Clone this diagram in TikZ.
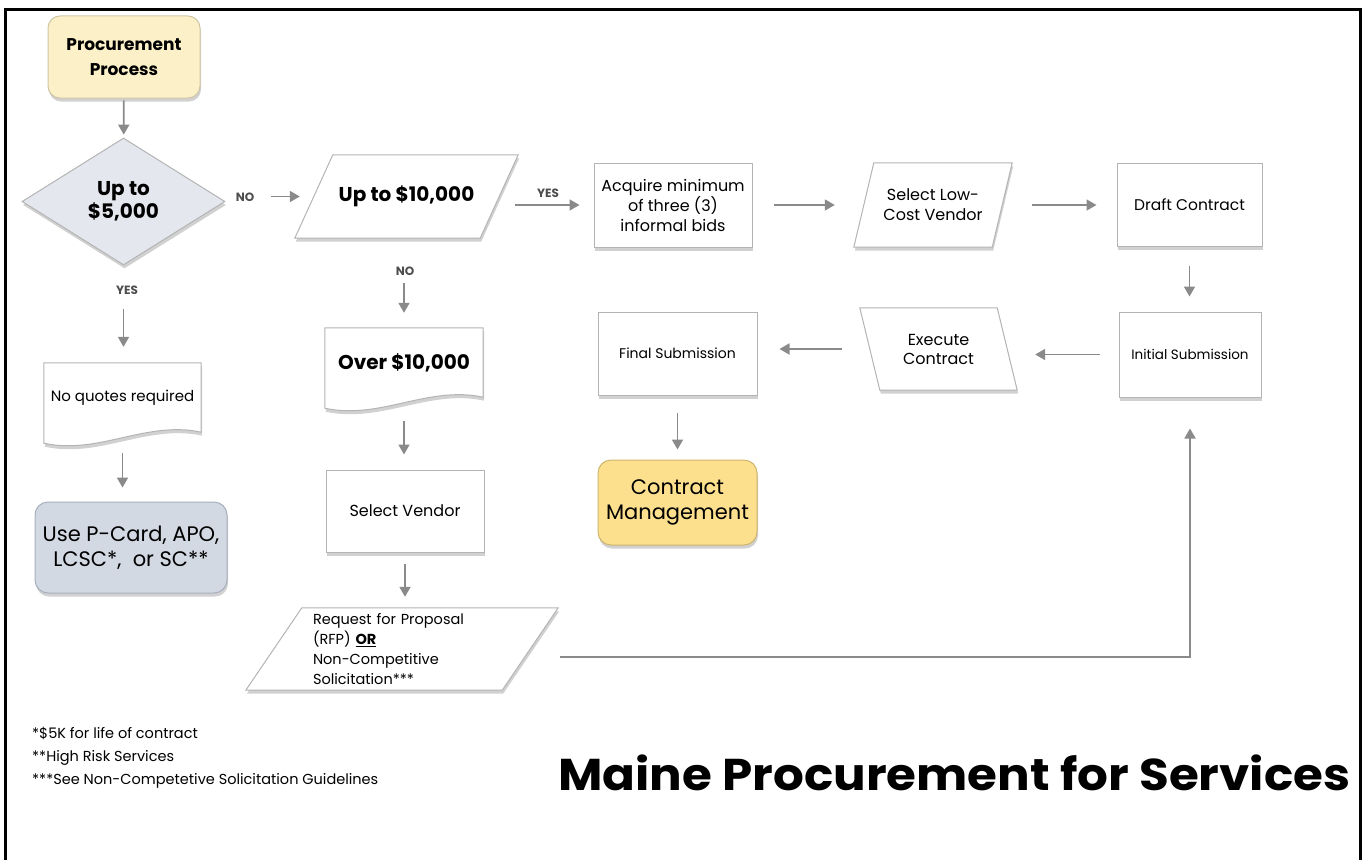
\documentclass[tikz,border=0pt]{standalone}
\usepackage{graphicx}
\usepackage{fontspec}
\setmainfont{Poppins}
\usetikzlibrary{shapes.geometric,arrows.meta,shadows,calc}
\definecolor{linegray}{HTML}{B4B4B4}
\definecolor{arrgray}{HTML}{8A8A8A}
\definecolor{procfill}{HTML}{FCF0C8}
\definecolor{procline}{HTML}{CFC6A6}
\definecolor{diafill}{HTML}{E4E7EE}
\definecolor{pcardfill}{HTML}{D3D9E3}
\definecolor{pcardline}{HTML}{A7AFBD}
\definecolor{cmfill}{HTML}{FCE08E}
\definecolor{cmline}{HTML}{CDB56E}
\definecolor{lblgray}{HTML}{4D4D4D}
\newcommand\fsz[2]{\fontsize{#1}{#2}\selectfont}
\pgfdeclarelayer{bg}
\pgfsetlayers{bg,main}
\tikzset{
  shad/.style={drop shadow={shadow xshift=1pt, shadow yshift=-3.5pt, opacity=0.3, fill=black!60}},
  boxst/.style={rectangle, draw=linegray, line width=1pt, fill=white, shad, align=center, inner sep=0pt, text=black},
  ghost/.style={rectangle, inner sep=0pt, align=center, text=black},
  pshape/.style={draw=linegray, line width=1pt, fill=white, shad},
  arr/.style={draw=arrgray, line width=1.8pt, -{Triangle[length=10pt,width=11pt]}},
  lbl/.style={font=\fsz{12}{14}\bfseries, text=lblgray, inner sep=0pt}
}
\newcommand\docpath[3]{%
  \path[pshape] (#1.north west) -- ($(#1.south west)+(0,#2)$)
    .. controls ($(#1.south west)+({0.35*#3},{#2+12})$) and ($(#1.south east)+({-0.35*#3},-12)$) .. (#1.south east)
    -- (#1.north east) -- cycle;}
\newcommand\parapath[2]{%
  \path[pshape] ($(#1.north west)+(#2,0)$) -- ($(#1.north east)+(#2,0)$)
    -- ($(#1.south east)+({-(#2)},0)$) -- ($(#1.south west)+({-(#2)},0)$) -- cycle;}
\begin{document}
\begin{tikzpicture}[x=1pt,y=-1pt]
\useasboundingbox (0,0) rectangle (1367,859);
% frame
\draw[line width=3pt] (5,875) -- (5,10) -- (1360,10) -- (1360,875);

% left column
\node[boxst, draw=procline, fill=procfill, rounded corners=12pt, minimum width=152pt, minimum height=82pt, font=\fsz{17}{25}\bfseries] (proc) at (124,57) {Procurement\\Process};
\node[diamond, draw=linegray, line width=1pt, fill=diafill, shad, inner sep=0pt, minimum width=203pt, minimum height=127pt, align=center, font=\fsz{20}{23}\bfseries] (dia) at (123.5,201.5) {Up to\\\$5,000};
\node[ghost, minimum width=157pt, minimum height=69pt, font=\fsz{15}{19}] (noq) at (122.5,397.5) {No quotes required};
\node[boxst, draw=pcardline, fill=pcardfill, rounded corners=13pt, minimum width=192pt, minimum height=91pt, font=\fsz{21}{25}] (pcard) at (131,547.5) {Use P-Card, APO,\\LCSC*,\ \ or SC**};

% middle column
\node[ghost, minimum width=185pt, minimum height=83pt, font=\fsz{20}{24}\bfseries] (up10) at (406.5,196.5) {Up to \$10,000};
\node[ghost, minimum width=158pt, minimum height=69pt, font=\fsz{20}{24}\bfseries] (over) at (404,362.5) {Over \$10,000};
\node[boxst, minimum width=158pt, minimum height=82pt, font=\fsz{16}{20}] (selv) at (405,511) {Select Vendor};
\node[ghost, minimum width=256pt, minimum height=82pt, text width=178pt, inner xsep=39pt, align=left, font=\fsz{14.5}{20}] (rfp) at (402,649) {Request for Proposal\\(RFP) \textbf{\underline{OR}}\\Non-Competitive\\Solicitation***};

% top row
\node[boxst, minimum width=158pt, minimum height=84pt, font=\fsz{16}{20}] (acq) at (673,205) {Acquire minimum\\of three (3)\\informal bids};
\node[ghost, minimum width=138pt, minimum height=84pt, font=\fsz{16}{20}] (sel) at (933,205) {Select Low-\\Cost Vendor};
\node[boxst, minimum width=145pt, minimum height=83pt, font=\fsz{15.5}{20}] (draft) at (1189.5,204.5) {Draft Contract};

% second row
\node[boxst, minimum width=142pt, minimum height=85pt, font=\fsz{13.5}{18}] (init) at (1190,354.5) {Initial Submission};
\node[ghost, minimum width=137pt, minimum height=82pt, font=\fsz{16}{19}] (exe) at (938.5,349) {Execute\\Contract};
\node[boxst, minimum width=159pt, minimum height=83pt, font=\fsz{14}{18}] (final) at (677.5,353.5) {Final Submission};
\node[boxst, draw=cmline, fill=cmfill, rounded corners=13pt, minimum width=159pt, minimum height=85pt, font=\fsz{21}{25}] (cm) at (677.5,502.5) {Contract\\Management};

% shapes drawn behind text
\begin{pgfonlayer}{bg}
\docpath{noq}{11}{157}
\docpath{over}{11}{158}
\parapath{up10}{19}
\parapath{rfp}{28}
\parapath{sel}{10}
\parapath{exe}{-10}
\end{pgfonlayer}

% labels
\node[lbl] (no1) at (245,197) {NO};
\node[lbl] (yes1) at (127,290) {YES};
\node[lbl] (yes2) at (548,193) {YES};
\node[lbl] (no2) at (405,271) {NO};

% connectors
\draw[arr, shorten <=2pt, shorten >=3pt] (proc) -- (dia);
\draw[arr, shorten <=45pt, shorten >=14pt] (dia.east |- up10.west) -- (up10.west);
\draw[arr, shorten <=43pt, shorten >=16pt] (dia.south) -- (dia.south |- noq.north);
\draw[arr, shorten <=21pt, shorten >=14pt] (noq.south) -- (noq.south |- pcard.north);
\draw[arr, shorten <=16pt, shorten >=14pt] (up10.east |- acq.west) -- (acq.west);
\draw[arr, shorten <=45pt, shorten >=15pt] (up10.south -| over.north) -- (over.north);
\draw[arr, shorten <=24pt, shorten >=15pt] (over.south) -- (over.south |- selv.north);
\draw[arr, shorten <=11pt, shorten >=11pt] (selv.south) -- (selv.south |- rfp.north);
\draw[arr, shorten <=21pt, shorten >=29pt] (acq.east) -- (acq.east -| sel.west);
\draw[arr, shorten <=30pt, shorten >=20pt] (sel.east) -- (sel.east -| draft.west);
\draw[arr, shorten <=19pt, shorten >=15pt] (draft.south) -- (draft.south |- init.north);
\draw[arr, shorten <=19pt, shorten >=28pt] (init.west) -- (init.west -| exe.east);
\draw[arr, shorten <=28pt, shorten >=22pt] (exe.west) -- (exe.west -| final.east);
\draw[arr, shorten <=17pt, shorten >=10pt] (final.south) -- (final.south |- cm.north);
\coordinate (rfpout) at (560,657);
\draw[arr, shorten >=31pt] (rfpout) -| (init.south);

% footnotes
\node[anchor=base west, inner sep=0pt, font=\fsz{14.5}{18}] (fn1) at (32,738) {*\$5K for life of contract};
\node[anchor=base west, inner sep=0pt, font=\fsz{14.5}{18}] (fn2) at (32,761) {**High Risk Services};
\node[anchor=base west, inner sep=0pt, font=\fsz{14.5}{18}] (fn3) at (32,784) {***See Non-Competetive Solicitation Guidelines};

% title
\node[anchor=base west, inner sep=0pt] (title) at (558,790) {\resizebox{792pt}{!}{\scalebox{1}[0.92]{\bfseries Maine Procurement for Services}}};
\end{tikzpicture}
\end{document}
